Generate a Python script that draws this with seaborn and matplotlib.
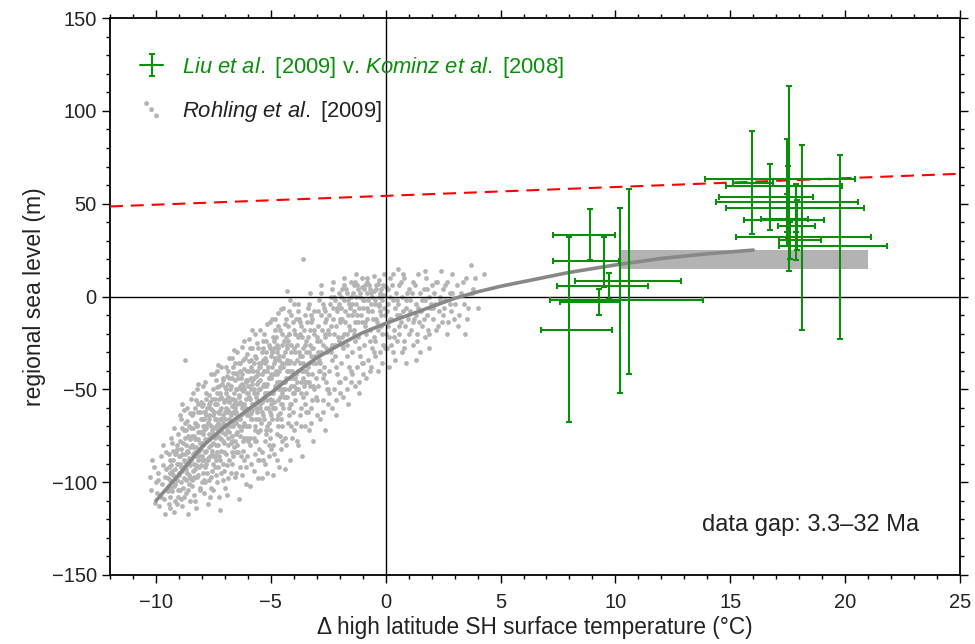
import numpy as np
import pandas as pd
import matplotlib
matplotlib.use("Agg")
import matplotlib.pyplot as plt
from matplotlib.ticker import MultipleLocator
from matplotlib.lines import Line2D
from matplotlib.legend_handler import HandlerTuple
import seaborn as sns

# ---------------- data ----------------
# Liu et al. [2009] v. Kominz et al. [2008] (centre, x range, y range)
liu_x    = [7.97, 8.9, 9.5, 9.3, 9.7, 10.2, 10.6, 15.93, 16.74, 17.55, 17.45, 17.5, 17.85, 17.45, 17.84, 17.9, 18.13, 17.6, 19.78]
liu_y    = [-18.0, 33.2, 18.9, -3.1, 5.8, -1.8, 8.1, 61.3, 53.4, 63.4, 59.7, 50.8, 47.8, 41.3, 42.0, 37.9, 32.0, 30.2, 27.0]
liu_xmin = [6.74, 7.29, 7.29, 7.57, 7.46, 7.17, 8.26, 15.12, 14.49, 13.88, 14.83, 14.39, 14.83, 15.58, 16.35, 17.06, 15.25, 17.13, 17.13]
liu_xmax = [9.86, 10.0, 10.14, 10.19, 11.42, 13.8, 12.86, 16.86, 18.62, 20.43, 19.88, 20.58, 20.84, 19.06, 18.38, 18.67, 21.13, 18.96, 21.84]
liu_ymin = [-67.7, 19.4, 5.0, -10.2, -1.2, -51.9, -42.0, 33.8, 35.6, 13.5, 34.7, 31.5, 35.0, 27.2, 19.4, 24.8, -17.8, 20.0, -23.0]
liu_ymax = [31.9, 47.0, 32.0, 3.8, 12.6, 47.8, 58.0, 88.9, 71.3, 113.2, 84.6, 70.1, 60.0, 55.4, 60.8, 51.8, 81.8, 40.0, 76.4]

# fitted curve
curve_x = [-10, -9, -8, -7, -6, -5, -4, -3, -2, -1, 0, 1, 2, 3, 4, 5, 6, 8, 10, 12, 14, 16]
curve_y = [-110, -96, -81, -70, -61, -52, -42, -33, -26, -19.5, -14.5, -10, -5.5, -1, 2.5, 5.5, 8, 13, 17, 20.5, 23, 25]

# red dashed line end points
red_x = [-12, 25]
red_y = [48.5, 66.1]

# grey box
box_x = [10.2, 21.0]
box_y = [15.0, 25.0]

# Rohling et al. [2009] scatter cloud
rohling_pts = [
(-10.25,-97),(-10.2,-104),(-10.1,-92),(-10.05,-111),(-10.15,-88),(-10.0,-100),
(-9.95,-106),(-9.9,-95),(-9.85,-113),(-9.8,-86),(-9.75,-101),(-9.7,-91),(-9.65,-109),(-9.6,-97),(-9.6,-117),(-9.55,-84),(-9.5,-104),(-9.9,-99),(-9.7,-80),(-9.8,-108),(-9.55,-93),
(-9.45,-112),(-9.4,-99),(-9.4,-88),(-9.35,-76),(-9.3,-105),(-9.3,-94),(-9.25,-83),(-9.2,-116),(-9.2,-71),(-9.15,-101),(-9.1,-90),(-9.1,-80),(-9.05,-108),(-9.0,-96),(-9.0,-86),(-9.45,-92),(-9.35,-103),(-9.25,-96),(-9.15,-85),(-9.05,-74),(-9.4,-114),(-9.1,-112),
(-8.95,-104),(-8.95,-78),(-8.9,-92),(-8.9,-66),(-8.85,-113),(-8.85,-85),(-8.8,-98),(-8.8,-72),(-8.75,-34),(-8.75,-89),(-8.7,-106),(-8.7,-80),(-8.65,-60),(-8.65,-95),(-8.6,-117),(-8.6,-84),(-8.55,-101),(-8.55,-70),(-8.5,-91),(-8.5,-77),(-8.95,-90),(-8.85,-58),(-8.8,-108),(-8.7,-93),(-8.6,-75),(-8.55,-87),(-8.9,-100),(-8.65,-83),(-8.75,-68),(-8.5,-110),
(-8.45,-99),(-8.45,-64),(-8.4,-85),(-8.4,-52),(-8.35,-107),(-8.35,-75),(-8.3,-93),(-8.3,-60),(-8.25,-81),(-8.25,-114),(-8.2,-69),(-8.2,-97),(-8.15,-88),(-8.15,-47),(-8.1,-103),(-8.1,-73),(-8.05,-57),(-8.05,-91),(-8.0,-79),(-8.0,-66),(-8.45,-80),(-8.4,-71),(-8.35,-90),(-8.3,-77),(-8.25,-56),(-8.2,-84),(-8.15,-96),(-8.1,-62),(-8.05,-82),(-8.0,-100),(-8.3,-110),(-8.15,-77),(-8.4,-94),(-8.0,-88),(-8.2,-50),
(-7.95,-95),(-7.95,-58),(-7.9,-72),(-7.9,-106),(-7.85,-84),(-7.85,-46),(-7.8,-64),(-7.8,-90),(-7.75,-77),(-7.75,-112),(-7.7,-53),(-7.7,-99),(-7.65,-69),(-7.65,-86),(-7.6,-42),(-7.6,-80),(-7.55,-61),(-7.55,-94),(-7.5,-74),(-7.5,-104),(-7.95,-80),(-7.9,-66),(-7.85,-100),(-7.8,-55),(-7.75,-88),(-7.7,-74),(-7.65,-60),(-7.6,-97),(-7.55,-83),(-7.5,-50),(-7.9,-88),(-7.8,-78),(-7.7,-64),(-7.6,-70),(-7.55,-72),(-7.85,-62),(-7.75,-68),(-7.65,-108),(-7.5,-86),(-7.95,-70),
(-7.45,-66),(-7.45,-92),(-7.4,-45),(-7.4,-80),(-7.35,-58),(-7.35,-100),(-7.3,-72),(-7.3,-37),(-7.25,-86),(-7.25,-63),(-7.2,-115),(-7.2,-52),(-7.15,-77),(-7.15,-95),(-7.1,-44),(-7.1,-68),(-7.05,-84),(-7.05,-57),(-7.0,-74),(-7.0,-103),(-7.45,-55),(-7.4,-70),(-7.35,-84),(-7.3,-62),(-7.25,-48),(-7.2,-76),(-7.15,-60),(-7.1,-90),(-7.05,-70),(-7.0,-49),(-7.4,-96),(-7.3,-80),(-7.2,-66),(-7.1,-78),(-7.0,-62),(-7.45,-76),(-7.35,-40),(-7.25,-108),(-7.15,-54),(-7.05,-94),
(-6.95,-60),(-6.95,-85),(-6.9,-43),(-6.9,-72),(-6.85,-54),(-6.85,-98),(-6.8,-66),(-6.8,-33),(-6.75,-79),(-6.75,-48),(-6.7,-59),(-6.7,-90),(-6.65,-38),(-6.65,-70),(-6.6,-52),(-6.6,-81),(-6.55,-63),(-6.55,-45),(-6.5,-74),(-6.5,-95),(-6.95,-50),(-6.9,-62),(-6.85,-76),(-6.8,-57),(-6.75,-64),(-6.7,-44),(-6.65,-86),(-6.6,-68),(-6.55,-56),(-6.5,-41),(-6.9,-107),(-6.8,-88),(-6.7,-75),(-6.6,-29),(-6.5,-62),(-6.95,-70),(-6.85,-40),(-6.75,-95),(-6.65,-55),(-6.55,-78),
(-6.45,-50),(-6.45,-80),(-6.4,-36),(-6.4,-65),(-6.35,-57),(-6.35,-92),(-6.3,-44),(-6.3,-72),(-6.25,-27),(-6.25,-60),(-6.2,-83),(-6.2,-48),(-6.15,-68),(-6.15,-39),(-6.1,-55),(-6.1,-101),(-6.05,-76),(-6.05,-31),(-6.0,-62),(-6.0,-45),(-6.45,-66),(-6.4,-54),(-6.35,-75),(-6.3,-58),(-6.25,-42),(-6.2,-70),(-6.15,-88),(-6.1,-46),(-6.05,-64),(-6.0,-78),(-6.4,-109),(-6.3,-86),(-6.2,-34),(-6.1,-70),(-6.0,-52),(-6.45,-42),(-6.35,-48),(-6.25,-96),(-6.15,-58),(-6.05,-52),
(-5.95,-40),(-5.95,-70),(-5.9,-55),(-5.9,-28),(-5.85,-63),(-5.85,-90),(-5.8,-47),(-5.8,-18),(-5.75,-76),(-5.75,-36),(-5.7,-58),(-5.7,-85),(-5.65,-43),(-5.65,-66),(-5.6,-25),(-5.6,-52),(-5.55,-73),(-5.55,-98),(-5.5,-38),(-5.5,-60),(-5.95,-54),(-5.9,-80),(-5.85,-44),(-5.8,-66),(-5.75,-50),(-5.7,-32),(-5.65,-78),(-5.6,-62),(-5.55,-46),(-5.5,-88),(-5.9,-102),(-5.8,-58),(-5.7,-70),(-5.6,-40),(-5.5,-50),(-5.95,-62),(-5.85,-34),(-5.75,-94),(-5.65,-54),(-5.55,-28),
(-5.45,-45),(-5.45,-72),(-5.4,-30),(-5.4,-57),(-5.35,-64),(-5.35,-88),(-5.3,-40),(-5.3,-20),(-5.25,-52),(-5.25,-78),(-5.2,-35),(-5.2,-60),(-5.15,-47),(-5.15,-95),(-5.1,-26),(-5.1,-68),(-5.05,-55),(-5.05,-14),(-5.0,-42),(-5.0,-82),(-5.45,-58),(-5.4,-84),(-5.35,-48),(-5.3,-66),(-5.25,-36),(-5.2,-74),(-5.15,-56),(-5.1,-44),(-5.05,-62),(-5.0,-32),(-5.4,-98),(-5.3,-54),(-5.2,-24),(-5.1,-80),(-5.0,-58),(-5.45,-38),(-5.35,-28),(-5.25,-90),(-5.15,-40),(-5.05,-72),
(-4.95,-38),(-4.95,-66),(-4.9,-22),(-4.9,-52),(-4.85,-60),(-4.85,-85),(-4.8,-33),(-4.8,-12),(-4.75,-46),(-4.75,-74),(-4.7,-28),(-4.7,-56),(-4.65,-40),(-4.65,-92),(-4.6,-18),(-4.6,-63),(-4.55,-50),(-4.55,-7),(-4.5,-36),(-4.5,-78),(-4.95,-52),(-4.9,-80),(-4.85,-42),(-4.8,-60),(-4.75,-30),(-4.7,-70),(-4.65,-50),(-4.6,-38),(-4.55,-58),(-4.5,-26),(-4.9,-96),(-4.8,-48),(-4.7,-16),(-4.6,-75),(-4.5,-52),(-4.95,-30),(-4.85,-24),(-4.75,-88),(-4.65,-34),(-4.55,-66),
(-4.45,-32),(-4.45,-60),(-4.4,-15),(-4.4,-46),(-4.35,-54),(-4.35,-80),(-4.3,-26),(-4.3,3),(-4.25,-40),(-4.25,-68),(-4.2,-20),(-4.2,-50),(-4.15,-35),(-4.15,-88),(-4.1,-10),(-4.1,-58),(-4.05,-44),(-4.0,-28),(-4.0,-72),(-4.45,-46),(-4.4,-76),(-4.35,-36),(-4.3,-54),(-4.25,-24),(-4.2,-64),(-4.15,-44),(-4.1,-30),(-4.05,-52),(-4.0,-18),(-4.4,-93),(-4.3,-40),(-4.2,-8),(-4.1,-70),(-4.0,-48),
(-3.95,-30),(-3.95,-56),(-3.9,-12),(-3.9,-42),(-3.85,-50),(-3.85,-78),(-3.8,-22),(-3.8,-4),(-3.75,-36),(-3.75,-64),(-3.7,-16),(-3.7,-46),(-3.65,-32),(-3.65,-86),(-3.6,20),(-3.6,-54),(-3.55,-40),(-3.5,-26),(-3.5,-70),(-3.95,-44),(-3.9,-68),(-3.85,-34),(-3.8,-50),(-3.75,-20),(-3.7,-60),(-3.65,-40),(-3.6,-28),(-3.55,-48),(-3.5,-10),(-3.8,-80),
(-3.45,-24),(-3.45,-52),(-3.4,-6),(-3.4,-38),(-3.35,-46),(-3.35,-72),(-3.3,-18),(-3.3,2),(-3.25,-32),(-3.25,-60),(-3.2,-12),(-3.2,-42),(-3.15,-28),(-3.15,-78),(-3.1,-8),(-3.1,-50),(-3.05,-36),(-3.0,-22),(-3.0,-64),(-3.45,-40),(-3.4,-62),(-3.35,-30),(-3.3,-48),(-3.25,-14),(-3.2,-56),(-3.15,-36),(-3.1,-20),(-3.05,-44),
(-2.95,-16),(-2.95,-48),(-2.9,-2),(-2.9,-34),(-2.85,-40),(-2.85,-66),(-2.8,-10),(-2.8,6),(-2.75,-26),(-2.75,-56),(-2.7,-6),(-2.7,-38),(-2.65,-22),(-2.65,-72),(-2.6,-12),(-2.6,-46),(-2.55,-30),(-2.5,-18),(-2.5,-58),(-2.95,-30),(-2.85,-24),(-2.75,-44),(-2.65,-8),(-2.55,-50),
(-2.45,-10),(-2.45,-40),(-2.4,0),(-2.4,-28),(-2.35,-34),(-2.35,-60),(-2.3,-6),(-2.3,8),(-2.25,-20),(-2.25,-50),(-2.2,-2),(-2.2,-32),(-2.15,-16),(-2.15,-64),(-2.1,-8),(-2.1,-42),(-2.05,-24),(-2.0,-12),(-2.0,-52),(-2.4,-16),(-2.2,-26),(-2.05,-4),
(-1.95,-6),(-1.95,-36),(-1.9,4),(-1.9,-22),(-1.85,-28),(-1.85,-54),(-1.8,-2),(-1.8,10),(-1.75,-14),(-1.75,-44),(-1.7,2),(-1.7,-26),(-1.65,-10),(-1.65,-58),(-1.6,-4),(-1.6,-38),(-1.55,-18),(-1.5,0),(-1.5,-46),(-1.9,-12),(-1.7,-20),(-1.55,-6),
(-1.45,-4),(-1.45,-30),(-1.4,6),(-1.4,-18),(-1.35,-24),(-1.35,-48),(-1.3,0),(-1.3,12),(-1.25,-10),(-1.25,-38),(-1.2,4),(-1.2,-22),(-1.15,-6),(-1.15,-52),(-1.1,2),(-1.1,-32),(-1.05,-14),(-1.0,-2),(-1.0,-42),(-1.4,-8),(-1.2,-14),(-1.05,5),
(-0.95,-2),(-0.95,-26),(-0.9,6),(-0.9,-14),(-0.85,-20),(-0.85,-44),(-0.8,2),(-0.8,10),(-0.75,-8),(-0.75,-34),(-0.7,4),(-0.7,-18),(-0.65,-4),(-0.65,-38),(-0.6,0),(-0.6,-28),(-0.55,-12),(-0.5,3),(-0.5,-22),(-0.8,-6),
(-0.45,-4),(-0.45,-24),(-0.4,6),(-0.4,-12),(-0.35,-18),(-0.35,-40),(-0.3,0),(-0.3,9),(-0.25,-8),(-0.25,-30),(-0.2,4),(-0.2,-16),(-0.15,-2),(-0.15,-36),(-0.1,1),(-0.1,-26),(-0.05,-10),(0.0,5),(0.0,-20),(-0.3,-5),
(0.05,-8),(0.05,-28),(0.1,4),(0.1,-16),(0.15,-22),(0.15,-38),(0.2,0),(0.2,10),(0.25,-12),(0.3,-30),(0.3,-2),(0.35,-18),(0.4,-6),(0.4,-34),(0.45,2),(0.5,-24),(0.5,-10),(0.55,15),
(0.55,-4),(0.6,-20),(0.6,6),(0.65,-14),(0.7,-30),(0.7,0),(0.75,-8),(0.8,-24),(0.8,10),(0.85,-16),(0.9,-2),(0.9,-36),(0.95,-10),(1.0,4),(1.0,-20),(0.75,12),
(1.05,-8),(1.1,-18),(1.15,2),(1.2,-26),(1.2,8),(1.25,-12),(1.3,-4),(1.35,-20),(1.4,12),(1.4,-6),(1.45,-14),(1.5,-30),(1.5,2),(1.3,-34),
(1.55,-8),(1.6,-16),(1.65,4),(1.7,-22),(1.7,-2),(1.75,10),(1.8,-10),(1.85,-18),(1.9,0),(1.95,-6),(2.0,6),(1.9,-28),
(2.05,-12),(2.1,2),(2.15,-4),(2.2,-18),(2.25,8),(2.3,-8),(2.35,0),(2.4,14),(2.45,-14),(2.5,4),
(2.55,-6),(2.6,-2),(2.65,8),(2.7,-14),(2.8,2),(2.85,-8),(2.9,12),(3.0,-4),
(3.1,6),(3.2,-10),(3.3,2),(3.4,-4),(3.5,10),(3.55,-12),(3.7,17),(3.8,4),(4.0,-6),(4.3,12),
]

# further points of the dense part of the cloud
rohling_pts_dense = [
(-9.48,-98),(-9.42,-85),(-9.38,-108),(-9.33,-91),(-9.28,-79),(-9.22,-102),(-9.18,-93),(-9.12,-84),(-9.08,-99),(-9.02,-90),(-9.47,-105),(-9.37,-95),(-9.27,-88),(-9.17,-110),(-9.07,-82),(-9.03,-104),
(-8.98,-95),(-8.93,-82),(-8.88,-71),(-8.83,-103),(-8.78,-88),(-8.73,-76),(-8.68,-99),(-8.63,-67),(-8.58,-90),(-8.53,-81),(-8.97,-64),(-8.92,-109),(-8.87,-94),(-8.82,-79),(-8.77,-61),(-8.72,-85),(-8.67,-72),(-8.62,-104),(-8.57,-96),(-8.52,-63),(-8.96,-86),(-8.81,-92),(-8.66,-89),(-8.51,-98),
(-8.48,-88),(-8.43,-75),(-8.38,-63),(-8.33,-97),(-8.28,-84),(-8.23,-70),(-8.18,-58),(-8.13,-92),(-8.08,-79),(-8.03,-66),(-8.47,-55),(-8.42,-102),(-8.37,-81),(-8.32,-68),(-8.27,-91),(-8.22,-77),(-8.17,-62),(-8.12,-86),(-8.07,-104),(-8.02,-73),(-8.46,-71),(-8.31,-86),(-8.16,-73),(-8.01,-59),(-8.36,-98),(-8.11,-83),
(-7.98,-86),(-7.93,-62),(-7.88,-77),(-7.83,-52),(-7.78,-95),(-7.73,-68),(-7.68,-81),(-7.63,-57),(-7.58,-74),(-7.53,-90),(-7.97,-48),(-7.92,-99),(-7.87,-70),(-7.82,-83),(-7.77,-60),(-7.72,-87),(-7.67,-66),(-7.62,-103),(-7.57,-55),(-7.52,-79),(-7.96,-74),(-7.81,-71),(-7.66,-76),(-7.51,-64),(-7.86,-92),(-7.71,-58),(-7.56,-85),
(-7.48,-71),(-7.43,-58),(-7.38,-88),(-7.33,-49),(-7.28,-75),(-7.23,-61),(-7.18,-83),(-7.13,-47),(-7.08,-64),(-7.03,-79),(-7.47,-42),(-7.42,-86),(-7.37,-66),(-7.32,-92),(-7.27,-55),(-7.22,-70),(-7.17,-38),(-7.12,-73),(-7.07,-99),(-7.02,-56),(-7.46,-62),(-7.31,-68),(-7.16,-66),(-7.01,-70),(-7.36,-52),(-7.21,-88),(-7.06,-45),
(-6.98,-66),(-6.93,-52),(-6.88,-80),(-6.83,-44),(-6.78,-70),(-6.73,-55),(-6.68,-78),(-6.63,-41),(-6.58,-60),(-6.53,-84),(-6.97,-38),(-6.92,-91),(-6.87,-61),(-6.82,-73),(-6.77,-50),(-6.72,-67),(-6.67,-33),(-6.62,-58),(-6.57,-97),(-6.52,-50),(-6.96,-56),(-6.81,-62),(-6.66,-62),(-6.51,-68),(-6.86,-47),(-6.71,-84),(-6.56,-36),
(-6.48,-58),(-6.43,-44),(-6.38,-70),(-6.33,-36),(-6.28,-64),(-6.23,-51),(-6.18,-76),(-6.13,-33),(-6.08,-60),(-6.03,-86),(-6.47,-30),(-6.42,-84),(-6.37,-53),(-6.32,-66),(-6.27,-47),(-6.22,-58),(-6.17,-24),(-6.12,-63),(-6.07,-92),(-6.02,-40),(-6.46,-73),(-6.31,-50),(-6.16,-50),(-6.01,-70),(-6.36,-40),(-6.21,-78),(-6.06,-45),
(-5.98,-48),(-5.93,-35),(-5.88,-66),(-5.83,-28),(-5.78,-58),(-5.73,-44),(-5.68,-72),(-5.63,-33),(-5.58,-56),(-5.53,-82),(-5.97,-23),(-5.92,-76),(-5.87,-50),(-5.82,-61),(-5.77,-40),(-5.72,-52),(-5.67,-20),(-5.62,-47),(-5.57,-88),(-5.52,-36),(-5.96,-64),(-5.81,-45),(-5.66,-60),(-5.51,-66),(-5.86,-38),(-5.71,-78),(-5.56,-42),
(-5.48,-50),(-5.43,-36),(-5.38,-62),(-5.33,-24),(-5.28,-47),(-5.23,-30),(-5.18,-70),(-5.13,-38),(-5.08,-52),(-5.03,-76),(-5.47,-18),(-5.42,-68),(-5.37,-42),(-5.32,-56),(-5.27,-33),(-5.22,-48),(-5.17,-15),(-5.12,-60),(-5.07,-86),(-5.02,-28),(-5.46,-60),(-5.31,-40),(-5.16,-52),(-5.01,-64),(-5.36,-34),(-5.21,-72),(-5.06,-44),
(-4.98,-44),(-4.93,-30),(-4.88,-57),(-4.83,-18),(-4.78,-40),(-4.73,-26),(-4.68,-64),(-4.63,-32),(-4.58,-46),(-4.53,-70),(-4.97,-12),(-4.92,-60),(-4.87,-36),(-4.82,-50),(-4.77,-22),(-4.72,-42),(-4.67,-9),(-4.62,-54),(-4.57,-82),(-4.52,-20),(-4.96,-56),(-4.81,-34),(-4.66,-46),(-4.51,-58),(-4.86,-28),(-4.71,-66),(-4.56,-38),
(-4.48,-38),(-4.43,-24),(-4.38,-50),(-4.33,-12),(-4.28,-34),(-4.23,-20),(-4.18,-58),(-4.13,-26),(-4.08,-40),(-4.03,-62),(-4.47,-6),(-4.42,-54),(-4.37,-30),(-4.32,-44),(-4.27,-16),(-4.22,-36),(-4.17,-2),(-4.12,-48),(-4.07,-76),(-4.02,-14),(-4.46,-50),(-4.31,-28),(-4.16,-40),(-4.01,-52),(-4.36,-22),(-4.21,-60),
(-3.98,-36),(-3.93,-20),(-3.88,-46),(-3.83,-8),(-3.78,-30),(-3.73,-14),(-3.68,-52),(-3.63,-22),(-3.58,-36),(-3.53,-58),(-3.97,-4),(-3.92,-50),(-3.87,-26),(-3.82,-40),(-3.77,-12),(-3.72,-32),(-3.67,-70),(-3.62,-44),(-3.57,-18),(-3.52,-46),
(-3.48,-30),(-3.43,-14),(-3.38,-42),(-3.33,-4),(-3.28,-26),(-3.23,-10),(-3.18,-48),(-3.13,-18),(-3.08,-32),(-3.03,-54),(-3.47,-62),(-3.42,-46),(-3.37,-22),(-3.32,-36),(-3.27,-68),(-3.22,-28),
(-2.98,-24),(-2.93,-8),(-2.88,-36),(-2.83,2),(-2.78,-18),(-2.73,-4),(-2.68,-42),(-2.63,-14),(-2.58,-28),(-2.53,-50),(-2.97,-56),(-2.92,-40),(-2.82,-30),(-2.72,-62),(-2.62,-20),
(-2.48,-20),(-2.43,-4),(-2.38,-30),(-2.33,4),(-2.28,-12),(-2.23,0),(-2.18,-38),(-2.13,-6),(-2.08,-22),(-2.03,-46),(-2.47,-52),(-2.32,-26),(-2.17,-56),(-2.02,2),
(-1.98,-14),(-1.93,0),(-1.88,-26),(-1.83,6),(-1.78,-8),(-1.73,4),(-1.68,-32),(-1.63,-2),(-1.58,-16),(-1.53,-40),(-1.97,-46),(-1.82,-20),(-1.67,-50),(-1.52,8),
(-1.48,-10),(-1.43,2),(-1.38,-20),(-1.33,8),(-1.28,-4),(-1.23,6),(-1.18,-28),(-1.13,0),(-1.08,-10),(-1.03,-36),(-1.47,-42),(-1.32,-14),(-1.17,-46),(-1.02,10),
(-0.98,-6),(-0.93,4),(-0.88,-16),(-0.83,8),(-0.78,-2),(-0.73,6),(-0.68,-24),(-0.63,2),(-0.58,-8),(-0.53,-30),(-0.97,-36),(-0.82,-12),(-0.67,-40),(-0.52,11),
(-0.48,-2),(-0.43,4),(-0.38,-14),(-0.33,7),(-0.28,-4),(-0.23,2),(-0.18,-20),(-0.13,6),(-0.08,-6),(-0.03,-28),(-0.47,-32),(-0.22,-10),(-0.07,12),
(0.08,-4),(0.18,-12),(0.28,6),(0.38,-22),(0.48,-2),(0.58,-16),(0.68,8),(0.78,-28),(0.88,-6),(0.98,-12),(0.23,-26),(0.63,-10),(0.33,12),(0.93,2),
(1.08,-2),(1.18,-14),(1.28,6),(1.38,-24),(1.48,-8),(1.58,-2),(1.68,-12),(1.78,4),(1.88,-20),(1.98,-4),(1.33,-10),(1.73,14),
(2.08,-6),(2.18,8),(2.28,-16),(2.38,-2),(2.48,-10),(2.58,6),(2.68,-20),(2.78,-4),(2.88,2),(2.98,-12),
(3.15,-16),(3.35,8),(3.45,-20),(3.6,-6),(3.75,2),(3.9,10),
]

xticks = [-10, -5, 0, 5, 10, 15, 20, 25]
yticks = [-150, -100, -50, 0, 50, 100, 150]

# ---------------- style ----------------
sns.set_theme(style="ticks")
FONT = ["Liberation Sans", "DejaVu Sans"]
plt.rcParams["font.family"] = FONT
plt.rcParams["mathtext.fontset"] = "custom"
plt.rcParams["mathtext.rm"] = "Liberation Sans"
plt.rcParams["mathtext.it"] = "Liberation Sans:italic"

GREEN = "#0a8f0a"
DOT = "#b4b4b4"
TXT = "#222222"
LIU_LABEL = "$\\mathit{Liu\\ et\\ al.}$ [2009] v. $\\mathit{Kominz\\ et\\ al.}$ [2008]"
ROH_LABEL = "$\\mathit{Rohling\\ et\\ al.}$ [2009]"

fig = plt.figure(figsize=(9.75, 6.44), dpi=100)
ax = fig.add_axes([110/975, 1 - 575/644, 850/975, 557/644])

cloud = pd.DataFrame(rohling_pts + rohling_pts_dense, columns=["dT", "sl"])
sns.scatterplot(data=cloud, x="dT", y="sl", ax=ax, color=DOT, s=12,
                linewidth=0, zorder=1, label=ROH_LABEL)

ax.axhline(0, color="black", lw=1.0, zorder=1.5)
ax.axvline(0, color="black", lw=1.0, zorder=1.5)

ax.fill_between(box_x, [box_y[0]] * 2, [box_y[1]] * 2, color="#b3b3b3", lw=0, zorder=2)

curve = pd.DataFrame({"dT": curve_x, "sl": curve_y})
sns.lineplot(data=curve, x="dT", y="sl", ax=ax, color="#888888", lw=2.6,
             zorder=3, legend=False)

ax.plot(red_x, red_y, color="#ff0000", lw=1.5, linestyle=(0, (6.2, 3.8)), zorder=3)

lx = np.array(liu_x); ly = np.array(liu_y)
xerr = [lx - np.array(liu_xmin), np.array(liu_xmax) - lx]
yerr = [ly - np.array(liu_ymin), np.array(liu_ymax) - ly]
ax.errorbar(lx, ly, xerr=xerr, yerr=yerr, fmt="none", ecolor=GREEN,
            elinewidth=1.5, capsize=2.4, capthick=1.5, zorder=4)

# legend proxy: horizontal bar without caps + vertical bar with caps (overlaid)
proxy_v = ax.errorbar([np.nan], [np.nan], yerr=[[1.0], [1.0]], fmt="none",
                      ecolor=GREEN, elinewidth=1.5, capsize=2.4, capthick=1.5)
proxy_h = Line2D([], [], color=GREEN, lw=1.5)

scat_handle = ax.get_legend_handles_labels()[0][0]
leg = ax.legend([(proxy_h, proxy_v), scat_handle], [LIU_LABEL, ROH_LABEL],
                handler_map={tuple: HandlerTuple(ndivide=1, pad=0)},
                loc="upper left", frameon=False, fontsize=15.8,
                handlelength=1.05, handletextpad=0.86, labelspacing=0.9,
                borderaxespad=0.0, borderpad=0.4, bbox_to_anchor=(0.025, 0.95),
                scatterpoints=3, scatteryoffsets=[0.9, 0.5, 0.1], markerscale=1.0)
texts = leg.get_texts()
texts[0].set_color(GREEN)
texts[1].set_color(TXT)

ax.set_xlim(-12, 25)
ax.set_ylim(-150, 150)
ax.set_xticks(xticks)
ax.set_yticks(yticks)
ax.set_xticklabels([str(t).replace("-", "\u2212") for t in xticks])
ax.set_yticklabels([str(t).replace("-", "\u2212") for t in yticks])
ax.xaxis.set_minor_locator(MultipleLocator(1))
ax.yaxis.set_minor_locator(MultipleLocator(10))
ax.tick_params(which="both", direction="out", top=True, right=True,
               color="black", width=1.0, labelsize=14.5, labelcolor=TXT)
ax.tick_params(which="major", length=6)
ax.tick_params(which="minor", length=3)
ax.tick_params(axis="x", which="major", pad=7)
ax.tick_params(axis="y", which="major", pad=3.5)
for s in ax.spines.values():
    s.set_visible(True)
    s.set_color("black")
    s.set_linewidth(1.3)

ax.set_xlabel("\u0394 high latitude SH surface temperature (\u00b0C)", fontsize=16.3,
              color=TXT, labelpad=3)
ax.set_ylabel("regional sea level (m)", fontsize=16.5, color=TXT, labelpad=4)

ax.text(23.2, -123, "data gap: 3.3\u201332 Ma", ha="right", va="center",
        fontsize=17, color=TXT)

fig.savefig("out.png", dpi=100)
